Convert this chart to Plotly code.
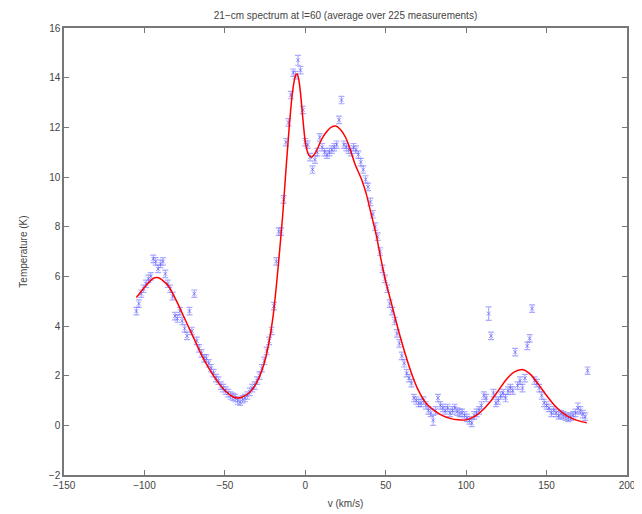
import plotly.graph_objects as go

# ---- measured spectrum (velocity in km/s, brightness temperature in K) ----
VEL = [-105, -103.5, -102, -100.5, -99, -97.5, -96, -94.5, -93, -91.5,
       -90, -88.5, -87, -85.5, -84, -82.5, -81, -79.5, -78, -76.5,
       -75, -73.5, -72, -70.5, -69, -67.5, -66, -64.5, -63, -61.5,
       -60, -58.5, -57, -55.5, -54, -52.5, -51, -49.5, -48, -46.5,
       -45, -43.5, -42, -40.5, -39, -37.5, -36, -34.5, -33, -31.5,
       -30, -28.5, -27, -25.5, -24, -22.5, -21, -19.5, -18, -16.5,
       -15, -13.5, -12, -10.5, -9, -7.5, -6, -4.5, -3, -1.5,
       0, 1.5, 3, 4.5, 6, 7.5, 9, 10.5, 12, 13.5,
       15, 16.5, 18, 19.5, 21, 22.5, 24, 25.5, 27, 28.5,
       30, 31.5, 33, 34.5, 36, 37.5, 39, 40.5, 42, 43.5,
       45, 46.5, 48, 49.5, 51, 52.5, 54, 55.5, 57, 58.5,
       60, 61.5, 63, 64.5, 66, 67.5, 69, 70.5, 72, 73.5,
       75, 76.5, 78, 79.5, 81, 82.5, 84, 85.5, 87, 88.5,
       90, 91.5, 93, 94.5, 96, 97.5, 99, 100.5, 102, 103.5,
       105, 106.5, 108, 109.5, 111, 112.5, 114, 115.5, 117, 118.5,
       120, 121.5, 123, 124.5, 126, 127.5, 129, 130.5, 132, 133.5,
       135, 136.5, 138, 139.5, 141, 142.5, 144, 145.5, 147, 148.5,
       150, 151.5, 153, 154.5, 156, 157.5, 159, 160.5, 162, 163.5,
       165, 166.5, 168, 169.5, 171, 172.5, 174, 175.5]

TEMP = [4.6, 4.9, 5.3, 5.5, 5.7, 5.9, 6.0, 6.7, 6.6, 6.3,
        6.5, 6.6, 6.1, 5.7, 5.5, 5.2, 4.4, 4.3, 4.6, 4.2,
        3.9, 3.6, 4.6, 3.8, 5.3, 3.4, 3.1, 2.9, 2.7, 2.7,
        2.5, 2.3, 2.1, 1.9, 1.8, 1.6, 1.5, 1.4, 1.3, 1.2,
        1.15, 1.1, 1.0, 0.95, 1.05, 1.1, 1.2, 1.35, 1.5, 1.6,
        1.8, 2.0, 2.3, 2.6, 3.0, 3.4, 3.8, 4.8, 6.6, 7.8,
        7.8, 9.1, 11.4, 12.2, 13.3, 14.2, 14.1, 14.7, 14.3, 12.7,
        11.4, 11.3, 10.8, 10.3, 10.7, 11.0, 11.6, 11.2, 11.0, 10.9,
        11.0, 11.1, 11.2, 11.3, 12.3, 13.1, 11.3, 11.2, 11.1, 11.0,
        11.2, 11.1, 10.9, 10.6, 10.3, 9.9, 9.6, 9.0, 8.5, 8.0,
        7.6, 7.0, 6.3, 5.9, 5.5, 4.9, 4.6, 4.2, 3.7, 3.3,
        2.8, 2.5, 2.1, 1.9, 1.7, 1.1, 1.0, 0.9, 0.9, 1.0,
        0.8, 0.6, 0.5, 0.2, 0.6, 1.1, 0.8, 0.7, 0.6, 0.7,
        0.5, 0.6, 0.7, 0.55, 0.5, 0.5, 0.4, 0.3, 0.2, 0.1,
        0.4, 0.5, 0.6, 0.8, 1.2, 1.1, 4.5, 3.6, 1.3, 0.9,
        1.0, 1.2, 1.3, 1.1, 1.4, 1.5, 1.4, 2.95, 1.6, 1.8,
        1.5, 1.9, 3.2, 3.5, 4.7, 1.8, 1.7, 1.5, 1.2, 0.9,
        0.8, 0.7, 0.5, 0.6, 0.5, 0.4, 0.45, 0.4, 0.35, 0.3,
        0.35, 0.4, 0.5, 0.7, 0.6, 0.45, 0.35, 2.2]

ERR = [0.15, 0.15, 0.15, 0.15, 0.15, 0.15, 0.15, 0.15, 0.15, 0.15,
       0.15, 0.15, 0.15, 0.15, 0.15, 0.15, 0.15, 0.15, 0.15, 0.15,
       0.15, 0.15, 0.15, 0.15, 0.15, 0.15, 0.15, 0.15, 0.15, 0.15,
       0.15, 0.15, 0.15, 0.15, 0.15, 0.15, 0.15, 0.15, 0.15, 0.15,
       0.15, 0.15, 0.15, 0.15, 0.15, 0.15, 0.15, 0.15, 0.15, 0.15,
       0.15, 0.15, 0.15, 0.15, 0.15, 0.15, 0.15, 0.15, 0.15, 0.15,
       0.15, 0.15, 0.15, 0.15, 0.15, 0.15, 0.15, 0.2, 0.15, 0.15,
       0.15, 0.15, 0.15, 0.15, 0.15, 0.15, 0.15, 0.15, 0.15, 0.15,
       0.15, 0.15, 0.15, 0.15, 0.15, 0.15, 0.15, 0.15, 0.15, 0.15,
       0.15, 0.15, 0.15, 0.15, 0.15, 0.15, 0.15, 0.15, 0.15, 0.15,
       0.15, 0.15, 0.15, 0.15, 0.15, 0.15, 0.15, 0.15, 0.15, 0.15,
       0.15, 0.15, 0.15, 0.15, 0.15, 0.15, 0.15, 0.15, 0.15, 0.15,
       0.15, 0.15, 0.15, 0.2, 0.15, 0.15, 0.15, 0.15, 0.15, 0.15,
       0.15, 0.15, 0.15, 0.15, 0.15, 0.15, 0.15, 0.15, 0.15, 0.15,
       0.15, 0.15, 0.15, 0.15, 0.15, 0.15, 0.27, 0.15, 0.15, 0.15,
       0.15, 0.15, 0.15, 0.15, 0.15, 0.15, 0.15, 0.15, 0.15, 0.15,
       0.15, 0.15, 0.15, 0.15, 0.15, 0.15, 0.15, 0.15, 0.15, 0.15,
       0.15, 0.15, 0.15, 0.15, 0.15, 0.15, 0.15, 0.15, 0.15, 0.15,
       0.15, 0.15, 0.15, 0.2, 0.15, 0.15, 0.15, 0.15]

# ---- fitted model curve ----
FIT_VEL = [-105, -100, -95, -92, -88, -85, -80, -75, -70, -65,
           -60, -55, -50, -45, -42, -40, -35, -30, -26, -23,
           -20, -18, -16, -14, -12, -10, -8, -6, -5, -4,
           -3, -2, -1, 0, 2, 4, 6, 8, 10, 13,
           16, 19, 22, 25, 28, 31, 35, 38, 41, 44,
           47, 50, 54, 58, 62, 66, 70, 75, 80, 85,
           90, 95, 100, 105, 110, 115, 120, 125, 130, 135,
           140, 145, 150, 155, 160, 165, 170, 175]
FIT_TEMP = [5.15, 5.55, 5.9, 5.95, 5.8, 5.6, 5.0, 4.3, 3.6, 2.9,
            2.3, 1.8, 1.4, 1.15, 1.1, 1.12, 1.3, 1.75, 2.4, 3.2,
            4.4, 5.6, 7.0, 8.5, 10.3, 12.0, 13.4, 14.1, 14.15, 13.9,
            13.4, 12.7, 12.0, 11.4, 10.9, 10.8, 10.95, 11.2, 11.5, 11.8,
            12.0, 12.05, 11.9, 11.6, 11.1, 10.5, 9.9, 9.3, 8.5, 7.7,
            6.7, 5.8, 4.8, 3.8, 2.9, 2.1, 1.45, 0.9, 0.6, 0.4,
            0.28, 0.22, 0.22, 0.35, 0.6, 0.95, 1.4, 1.85, 2.15, 2.25,
            2.05, 1.65, 1.2, 0.8, 0.5, 0.3, 0.18, 0.1]

TITLE = "21\u2212cm spectrum at l=60 (average over 225 measurements)"
X_LABEL = "v (km/s)"
Y_LABEL = "Temperature (K)"

# the page body keeps an 8px default margin, so the figure is sized/offset for it
FIG_W, FIG_H = 634, 506

fig = go.Figure()
fig.add_trace(go.Scatter(
    x=VEL, y=TEMP, mode="markers",
    marker=dict(symbol="x-thin", size=4, color="rgba(90,90,255,0.6)",
                line=dict(width=1, color="rgba(90,90,255,0.6)")),
    error_y=dict(type="data", array=ERR, visible=True,
                 color="rgba(100,100,255,0.55)", thickness=1.2, width=3),
    showlegend=False, hoverinfo="x+y"))
fig.add_trace(go.Scatter(
    x=FIT_VEL, y=FIT_TEMP, mode="lines",
    line=dict(color="rgb(255,0,0)", width=1.5, shape="spline", smoothing=0.6),
    showlegend=False))

axis_common = dict(showgrid=False, zeroline=False, showline=True, mirror="ticks",
                   linecolor="#777", linewidth=1.5, ticks="inside", ticklen=5,
                   tickcolor="#777", automargin=False,
                   tickfont=dict(family="Liberation Sans, Arial", size=10, color="#444"))

fig.update_layout(
    width=FIG_W, height=FIG_H,
    margin=dict(l=56, r=15, t=20, b=39),
    paper_bgcolor="white", plot_bgcolor="white",
    font=dict(family="Liberation Sans, Arial", size=10, color="#444"),
    title=dict(text=TITLE, x=0.5, xref="paper", y=1 - 7 / FIG_H, yref="container",
               yanchor="middle", font=dict(size=10, color="#444"), automargin=False),
    xaxis=dict(range=[-150, 200], tickvals=[-150, -100, -50, 0, 50, 100, 150, 200],
               title=dict(text=X_LABEL, standoff=10, font=dict(size=10)), **axis_common),
    yaxis=dict(range=[-2, 16], tickvals=[-2, 0, 2, 4, 6, 8, 10, 12, 14, 16],
               title=dict(text=Y_LABEL, standoff=19, font=dict(size=10)), **axis_common),
)

fig.write_html("out.html")
